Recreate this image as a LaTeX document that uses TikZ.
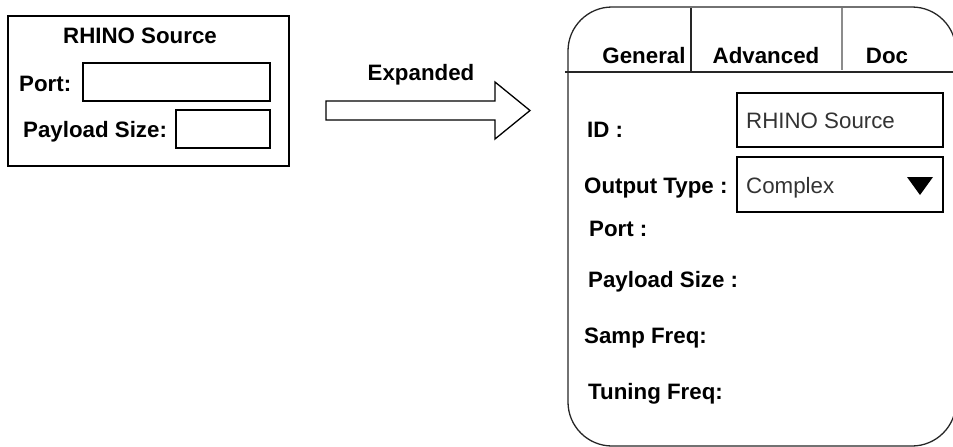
\documentclass[tikz,border=0pt]{standalone}
\usepackage{fontspec}
\setmainfont{Liberation Sans}
\begin{document}
\begin{tikzpicture}[x=1pt,y=-1pt,
  box/.style={draw=black,line width=1.3pt},
  lbl/.style={font=\fontsize{22.3}{25}\selectfont\bfseries,inner sep=0pt},
  val/.style={font=\fontsize{22.3}{25}\selectfont,inner sep=0pt,text=black!80}]
\useasboundingbox (0,0) rectangle (953,447);

% collapsed block
\draw[box] (8,16) rectangle (289,166);
\node[lbl,anchor=base] (title) at (140,43) {RHINO Source};
\node[lbl,anchor=base west] (portl) at (19,91) {Port:};
\draw[box] (83,63) rectangle (270,101);
\node[lbl,anchor=base west] (payl) at (23,137) {Payload Size:};
\draw[box] (176,110) rectangle (270,148);

% expand arrow
\draw[box,line join=miter,fill=white] (326,101) -- (495,101) -- (495,82) -- (530,110.5)
  -- (495,139) -- (495,120) -- (326,120) -- cycle;
\node[lbl,anchor=base] (exp) at (421,80.5) {Expanded};

% expanded block, its right side runs past the page edge
\begin{scope}
\clip (0,0) rectangle (953,447);
\draw[line width=1.3pt,black!85,rounded corners=44] (568,7) rectangle (956,446);
\end{scope}
\draw[line width=1.3pt,black!85] (565,72) -- (953,72);
\draw[line width=1.3pt,black!85] (691,8) -- (691,72);
\draw[line width=2pt,black!45] (842,8) -- (842,70);
\node[lbl,anchor=base] (tgen) at (644,63) {General};
\node[lbl,anchor=base] (tadv) at (766,63) {Advanced};
\node[lbl,anchor=base] (tdoc) at (887,63) {Doc};

\node[lbl,anchor=base west] (idl) at (587,137) {ID :};
\draw[box] (737,93) rectangle (943,147);
\node[val,anchor=base west] (idv) at (746,128) {RHINO Source};

\node[lbl,anchor=base west] (otl) at (584,193.5) {Output Type :};
\draw[box] (737,157) rectangle (943,212);
\node[val,anchor=base west] (otv) at (746,193.5) {Complex};
\fill[black] (907,177) -- (933,177) -- (920,195) -- cycle;

\node[lbl,anchor=base west] (pl) at (589,236.5) {Port :};
\node[lbl,anchor=base west] (psl) at (588,287) {Payload Size :};
\node[lbl,anchor=base west] (sfl) at (584,343) {Samp Freq:};
\node[lbl,anchor=base west] (tfl) at (588,399) {Tuning Freq:};
\end{tikzpicture}
\end{document}
